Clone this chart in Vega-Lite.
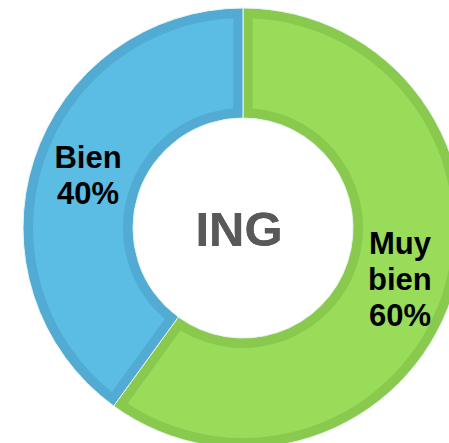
{
  "$schema": "https://vega.github.io/schema/vega-lite/v6.json",
  "autosize": "none",
  "padding": 0,
  "width": 486,
  "height": 456,
  "background": "white",
  "view": {"stroke": null},
  "data": {"values": [
    {"cat": "Muy bien", "pct": 60, "orden": 1},
    {"cat": "Bien", "pct": 40, "orden": 2}
  ]},
  "transform": [
    {"stack": "pct", "groupby": [], "sort": [{"field": "orden"}], "as": ["t0", "t1"]},
    {"calculate": "(datum.t0 + datum.t1) / 2", "as": "mid"},
    {"calculate": "datum.cat + ' ' + datum.pct + '%'", "as": "label"}
  ],
  "layer": [
    {
      "mark": {"type": "arc", "outerRadius": 220, "innerRadius": 110, "stroke": "#e8f4f0", "strokeWidth": 1},
      "encoding": {
        "theta": {"field": "t0", "type": "quantitative", "scale": {"domain": [0, 100]}},
        "theta2": {"field": "t1"},
        "color": {"field": "cat", "type": "nominal", "legend": null,
          "scale": {"domain": ["Muy bien", "Bien"], "range": ["#88C94E", "#52ABD2"]}}
      }
    },
    {
      "mark": {"type": "arc", "outerRadius": 210, "innerRadius": 120, "padAngle": 0.08},
      "encoding": {
        "theta": {"field": "t0", "type": "quantitative", "scale": {"domain": [0, 100]}},
        "theta2": {"field": "t1"},
        "fill": {"field": "cat", "type": "nominal", "legend": null,
          "scale": {"domain": ["Muy bien", "Bien"], "range": ["#99DC5A", "#5BBCE4"]}}
      }
    },
    {
      "transform": [{"filter": "datum.cat == 'Bien'"}],
      "mark": {"type": "text", "radius": 165, "font": "Liberation Sans", "fontWeight": "bold", "fontSize": 31, "lineBreak": " ", "lineHeight": 36, "color": "black", "baseline": "middle", "align": "center", "dy": -18, "dx": 2},
      "encoding": {
        "theta": {"field": "mid", "type": "quantitative", "scale": {"domain": [0, 100]}},
        "text": {"field": "label", "type": "nominal"}
      }
    },
    {
      "transform": [{"filter": "datum.cat == 'Muy bien'"}],
      "mark": {"type": "text", "radius": 165, "font": "Liberation Sans", "fontWeight": "bold", "fontSize": 31, "lineBreak": " ", "lineHeight": 36, "color": "black", "baseline": "middle", "align": "center", "dy": -34},
      "encoding": {
        "theta": {"field": "mid", "type": "quantitative", "scale": {"domain": [0, 100]}},
        "text": {"field": "label", "type": "nominal"}
      }
    },
    {
      "mark": {"type": "text", "text": "ING", "font": "Liberation Sans", "fontWeight": "bold", "fontSize": 49, "color": "#595959", "baseline": "middle", "align": "center", "dx": -4, "dy": 3},
      "encoding": {}
    }
  ],
  "resolve": {"scale": {"color": "independent", "fill": "independent"}}
}
